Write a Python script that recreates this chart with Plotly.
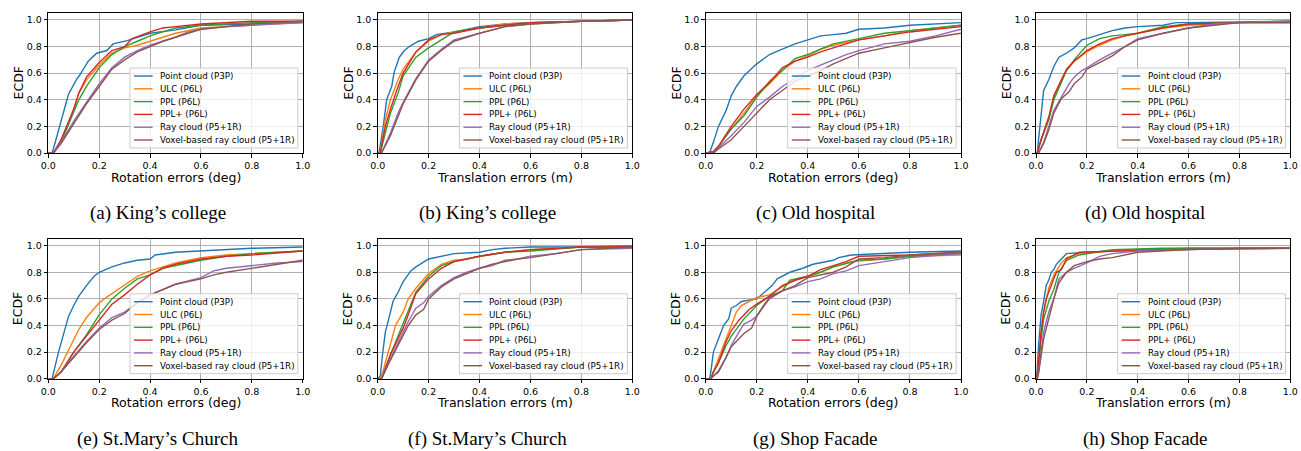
import plotly.graph_objects as go

# ---------------- data ----------------
SERIES = ["Point cloud (P3P)", "ULC (P6L)", "PPL (P6L)", "PPL+ (P6L)",
          "Ray cloud (P5+1R)", "Voxel-based ray cloud (P5+1R)"]
COLORS = ["#1f77b4", "#ff7f0e", "#2ca02c", "#d62728", "#9467bd", "#8c564b"]
CAPTIONS = ["(a) King\u2019s college", "(b) King\u2019s college", "(c) Old hospital", "(d) Old hospital",
            "(e) St.Mary\u2019s Church", "(f) St.Mary\u2019s Church", "(g) Shop Facade", "(h) Shop Facade"]
XTITLES = ["Rotation errors (deg)", "Translation errors (m)"] * 4
TICKS = [0.0, 0.2, 0.4, 0.6, 0.8, 1.0]

# (a) King's college, rotation
A_P3P_X = [0, 0.015, 0.03, 0.046, 0.059, 0.079, 0.11, 0.125, 0.157, 0.19, 0.23, 0.255, 0.31, 0.4, 0.5, 0.6, 0.8, 1.0]
A_P3P_Y = [0, 0, 0.1, 0.21, 0.3, 0.44, 0.55, 0.59, 0.69, 0.75, 0.77, 0.82, 0.845, 0.9, 0.925, 0.96, 0.97, 0.98]
A_ULC_X = [0, 0.02, 0.05, 0.08, 0.1, 0.12, 0.15, 0.2, 0.25, 0.3, 0.35, 0.4, 0.45, 0.5, 0.6, 0.8, 1.0]
A_ULC_Y = [0, 0, 0.09, 0.22, 0.33, 0.45, 0.55, 0.66, 0.75, 0.79, 0.81, 0.84, 0.87, 0.9, 0.94, 0.96, 0.98]
A_PPL_X = [0, 0.02, 0.05, 0.1, 0.12, 0.15, 0.2, 0.25, 0.3, 0.35, 0.4, 0.45, 0.5, 0.6, 0.8, 1.0]
A_PPL_Y = [0, 0, 0.08, 0.3, 0.4, 0.5, 0.64, 0.74, 0.8, 0.84, 0.88, 0.91, 0.94, 0.96, 0.98, 0.99]
A_PPLP_X = [0, 0.02, 0.05, 0.1, 0.12, 0.15, 0.2, 0.25, 0.3, 0.33, 0.4, 0.45, 0.5, 0.6, 0.8, 1.0]
A_PPLP_Y = [0, 0, 0.1, 0.33, 0.45, 0.57, 0.68, 0.77, 0.8, 0.86, 0.91, 0.94, 0.95, 0.97, 0.99, 0.99]
A_RAY_X = [0, 0.02, 0.05, 0.1, 0.15, 0.2, 0.25, 0.3, 0.35, 0.4, 0.45, 0.5, 0.55, 0.6, 0.7, 0.8, 1.0]
A_RAY_Y = [0, 0, 0.08, 0.24, 0.38, 0.52, 0.64, 0.72, 0.77, 0.81, 0.84, 0.87, 0.91, 0.93, 0.95, 0.96, 0.98]
A_VOX_X = [0, 0.02, 0.05, 0.1, 0.15, 0.2, 0.25, 0.3, 0.35, 0.4, 0.45, 0.5, 0.55, 0.6, 0.7, 0.8, 1.0]
A_VOX_Y = [0, 0, 0.07, 0.22, 0.37, 0.5, 0.63, 0.7, 0.76, 0.8, 0.84, 0.87, 0.9, 0.93, 0.95, 0.97, 0.99]

# (b) King's college, translation
B_P3P_X = [0, 0.005, 0.022, 0.035, 0.055, 0.065, 0.085, 0.105, 0.124, 0.16, 0.2, 0.23, 0.3, 0.4, 0.5, 0.6, 0.8, 1.0]
B_P3P_Y = [0, 0, 0.2, 0.4, 0.5, 0.61, 0.72, 0.77, 0.8, 0.84, 0.86, 0.89, 0.91, 0.95, 0.97, 0.98, 0.99, 1.0]
B_ULC_X = [0, 0.01, 0.03, 0.05, 0.08, 0.1, 0.15, 0.2, 0.25, 0.3, 0.4, 0.5, 0.6, 1.0]
B_ULC_Y = [0, 0, 0.25, 0.4, 0.55, 0.63, 0.76, 0.84, 0.89, 0.91, 0.94, 0.97, 0.98, 1.0]
B_PPL_X = [0, 0.01, 0.03, 0.05, 0.08, 0.1, 0.15, 0.2, 0.25, 0.3, 0.4, 0.5, 0.6, 1.0]
B_PPL_Y = [0, 0, 0.15, 0.3, 0.45, 0.58, 0.72, 0.79, 0.85, 0.91, 0.94, 0.96, 0.98, 1.0]
B_PPLP_X = [0, 0.01, 0.03, 0.05, 0.08, 0.1, 0.15, 0.2, 0.25, 0.3, 0.4, 0.5, 0.6, 1.0]
B_PPLP_Y = [0, 0, 0.2, 0.33, 0.5, 0.6, 0.76, 0.85, 0.89, 0.9, 0.94, 0.96, 0.98, 1.0]
B_RAY_X = [0, 0.015, 0.05, 0.08, 0.1, 0.15, 0.2, 0.25, 0.3, 0.4, 0.5, 0.6, 0.8, 1.0]
B_RAY_Y = [0, 0, 0.15, 0.3, 0.38, 0.56, 0.7, 0.78, 0.85, 0.9, 0.95, 0.97, 0.99, 1.0]
B_VOX_X = [0, 0.015, 0.05, 0.08, 0.1, 0.15, 0.2, 0.25, 0.3, 0.4, 0.5, 0.6, 0.8, 1.0]
B_VOX_Y = [0, 0, 0.13, 0.28, 0.37, 0.55, 0.69, 0.77, 0.84, 0.9, 0.95, 0.97, 0.99, 1.0]

# (c) Old hospital, rotation
C_P3P_X = [0, 0.015, 0.03, 0.05, 0.08, 0.1, 0.12, 0.15, 0.2, 0.25, 0.3, 0.35, 0.4, 0.45, 0.5, 0.55, 0.6, 0.7, 0.8, 1.0]
C_P3P_Y = [0, 0, 0.08, 0.2, 0.32, 0.43, 0.5, 0.58, 0.67, 0.74, 0.78, 0.82, 0.85, 0.88, 0.89, 0.9, 0.93, 0.94, 0.96, 0.98]
C_ULC_X = [0, 0.03, 0.05, 0.1, 0.15, 0.2, 0.25, 0.3, 0.35, 0.4, 0.45, 0.5, 0.6, 0.7, 0.8, 1.0]
C_ULC_Y = [0, 0.01, 0.05, 0.18, 0.3, 0.43, 0.52, 0.62, 0.69, 0.73, 0.78, 0.81, 0.85, 0.88, 0.92, 0.96]
C_PPL_X = [0, 0.03, 0.05, 0.1, 0.15, 0.2, 0.25, 0.3, 0.35, 0.4, 0.45, 0.5, 0.6, 0.7, 0.8, 1.0]
C_PPL_Y = [0, 0.01, 0.05, 0.18, 0.28, 0.42, 0.54, 0.62, 0.71, 0.74, 0.78, 0.82, 0.86, 0.9, 0.92, 0.96]
C_PPLP_X = [0, 0.03, 0.05, 0.1, 0.15, 0.2, 0.25, 0.3, 0.35, 0.4, 0.45, 0.5, 0.6, 0.7, 0.8, 1.0]
C_PPLP_Y = [0, 0.01, 0.05, 0.2, 0.33, 0.44, 0.53, 0.64, 0.69, 0.72, 0.76, 0.79, 0.85, 0.88, 0.91, 0.95]
C_RAY_X = [0, 0.03, 0.05, 0.1, 0.15, 0.2, 0.25, 0.3, 0.35, 0.4, 0.45, 0.5, 0.55, 0.6, 0.7, 0.8, 0.9, 1.0]
C_RAY_Y = [0, 0, 0.04, 0.13, 0.23, 0.35, 0.42, 0.5, 0.56, 0.62, 0.66, 0.7, 0.74, 0.77, 0.82, 0.84, 0.88, 0.93]
C_VOX_X = [0, 0.03, 0.05, 0.1, 0.15, 0.2, 0.25, 0.3, 0.35, 0.4, 0.45, 0.5, 0.55, 0.6, 0.7, 0.8, 0.9, 1.0]
C_VOX_Y = [0, 0, 0.03, 0.1, 0.2, 0.3, 0.4, 0.47, 0.54, 0.58, 0.62, 0.67, 0.71, 0.75, 0.79, 0.83, 0.87, 0.9]

# (d) Old hospital, translation
D_P3P_X = [0, 0.005, 0.01, 0.02, 0.03, 0.05, 0.07, 0.09, 0.12, 0.15, 0.18, 0.2, 0.25, 0.3, 0.35, 0.4, 0.5, 0.55, 0.6, 1.0]
D_P3P_Y = [0, 0, 0.1, 0.3, 0.47, 0.55, 0.65, 0.72, 0.75, 0.79, 0.85, 0.86, 0.89, 0.92, 0.94, 0.95, 0.96, 0.98, 0.98, 0.99]
D_ULC_X = [0, 0.005, 0.02, 0.05, 0.07, 0.1, 0.12, 0.15, 0.2, 0.25, 0.3, 0.35, 0.4, 0.5, 0.6, 0.8, 1.0]
D_ULC_Y = [0, 0, 0.1, 0.25, 0.42, 0.55, 0.62, 0.69, 0.76, 0.81, 0.85, 0.88, 0.9, 0.94, 0.96, 0.98, 0.98]
D_PPL_X = [0, 0.005, 0.02, 0.05, 0.07, 0.1, 0.12, 0.15, 0.2, 0.25, 0.3, 0.35, 0.4, 0.5, 0.6, 0.8, 1.0]
D_PPL_Y = [0, 0, 0.1, 0.25, 0.4, 0.53, 0.62, 0.7, 0.81, 0.86, 0.88, 0.89, 0.9, 0.95, 0.97, 0.98, 0.99]
D_PPLP_X = [0, 0.005, 0.02, 0.05, 0.07, 0.1, 0.12, 0.15, 0.2, 0.25, 0.3, 0.35, 0.4, 0.5, 0.6, 0.8, 1.0]
D_PPLP_Y = [0, 0, 0.1, 0.27, 0.43, 0.55, 0.63, 0.69, 0.77, 0.82, 0.86, 0.88, 0.9, 0.94, 0.97, 0.98, 0.98]
D_RAY_X = [0, 0.01, 0.03, 0.05, 0.07, 0.1, 0.13, 0.15, 0.18, 0.2, 0.25, 0.3, 0.35, 0.4, 0.5, 0.6, 0.7, 0.8, 1.0]
D_RAY_Y = [0, 0, 0.08, 0.2, 0.32, 0.42, 0.52, 0.57, 0.62, 0.64, 0.7, 0.75, 0.8, 0.86, 0.9, 0.94, 0.97, 0.98, 0.99]
D_VOX_X = [0, 0.01, 0.03, 0.05, 0.07, 0.1, 0.13, 0.15, 0.18, 0.2, 0.25, 0.3, 0.35, 0.4, 0.5, 0.6, 0.7, 0.8, 1.0]
D_VOX_Y = [0, 0, 0.07, 0.17, 0.3, 0.41, 0.46, 0.52, 0.57, 0.63, 0.68, 0.73, 0.8, 0.85, 0.9, 0.94, 0.96, 0.98, 0.98]

# (e) St.Mary's Church, rotation
E_P3P_X = [0, 0.015, 0.04, 0.06, 0.08, 0.1, 0.12, 0.15, 0.18, 0.2, 0.25, 0.3, 0.35, 0.4, 0.42, 0.5, 0.6, 0.7, 0.8, 1.0]
E_P3P_Y = [0, 0, 0.2, 0.33, 0.47, 0.55, 0.62, 0.7, 0.77, 0.8, 0.84, 0.87, 0.89, 0.9, 0.93, 0.95, 0.96, 0.97, 0.98, 0.99]
E_ULC_X = [0, 0.02, 0.05, 0.08, 0.1, 0.12, 0.15, 0.2, 0.22, 0.25, 0.3, 0.35, 0.4, 0.45, 0.5, 0.6, 0.7, 0.8, 1.0]
E_ULC_Y = [0, 0, 0.1, 0.22, 0.3, 0.37, 0.46, 0.57, 0.6, 0.64, 0.71, 0.77, 0.81, 0.84, 0.87, 0.91, 0.93, 0.94, 0.96]
E_PPL_X = [0, 0.02, 0.05, 0.1, 0.15, 0.2, 0.25, 0.3, 0.35, 0.4, 0.45, 0.5, 0.6, 0.7, 0.8, 1.0]
E_PPL_Y = [0, 0, 0.05, 0.2, 0.33, 0.48, 0.6, 0.68, 0.75, 0.78, 0.83, 0.85, 0.89, 0.92, 0.94, 0.96]
E_PPLP_X = [0, 0.02, 0.05, 0.1, 0.15, 0.2, 0.25, 0.3, 0.35, 0.4, 0.45, 0.5, 0.6, 0.7, 0.8, 1.0]
E_PPLP_Y = [0, 0, 0.05, 0.2, 0.32, 0.44, 0.56, 0.63, 0.71, 0.78, 0.83, 0.86, 0.9, 0.92, 0.93, 0.96]
E_RAY_X = [0, 0.02, 0.05, 0.1, 0.15, 0.2, 0.25, 0.3, 0.35, 0.4, 0.45, 0.5, 0.6, 0.65, 0.7, 0.8, 0.9, 1.0]
E_RAY_Y = [0, 0, 0.05, 0.17, 0.28, 0.38, 0.46, 0.5, 0.57, 0.63, 0.67, 0.71, 0.76, 0.81, 0.83, 0.85, 0.87, 0.88]
E_VOX_X = [0, 0.02, 0.05, 0.1, 0.15, 0.2, 0.25, 0.3, 0.35, 0.4, 0.45, 0.5, 0.6, 0.65, 0.7, 0.8, 0.9, 1.0]
E_VOX_Y = [0, 0, 0.05, 0.16, 0.27, 0.37, 0.44, 0.49, 0.57, 0.63, 0.67, 0.71, 0.75, 0.78, 0.8, 0.83, 0.86, 0.89]

# (f) St.Mary's Church, translation
F_P3P_X = [0, 0.01, 0.02, 0.03, 0.05, 0.06, 0.08, 0.1, 0.13, 0.15, 0.2, 0.25, 0.3, 0.4, 0.45, 0.5, 0.6, 1.0]
F_P3P_Y = [0, 0.02, 0.2, 0.35, 0.5, 0.58, 0.65, 0.73, 0.81, 0.84, 0.9, 0.92, 0.94, 0.95, 0.97, 0.98, 0.99, 0.99]
F_ULC_X = [0, 0.01, 0.02, 0.05, 0.07, 0.1, 0.12, 0.15, 0.18, 0.2, 0.25, 0.3, 0.35, 0.4, 0.5, 0.6, 0.8, 1.0]
F_ULC_Y = [0, 0, 0.05, 0.25, 0.4, 0.5, 0.6, 0.68, 0.75, 0.79, 0.86, 0.89, 0.9, 0.92, 0.95, 0.97, 0.99, 1.0]
F_PPL_X = [0, 0.015, 0.05, 0.08, 0.1, 0.12, 0.15, 0.2, 0.25, 0.3, 0.4, 0.5, 0.6, 0.8, 1.0]
F_PPL_Y = [0, 0, 0.18, 0.32, 0.42, 0.52, 0.65, 0.77, 0.85, 0.88, 0.92, 0.95, 0.96, 0.99, 1.0]
F_PPLP_X = [0, 0.015, 0.05, 0.08, 0.1, 0.12, 0.15, 0.2, 0.25, 0.3, 0.4, 0.5, 0.6, 0.8, 1.0]
F_PPLP_Y = [0, 0, 0.18, 0.3, 0.38, 0.48, 0.64, 0.75, 0.83, 0.88, 0.92, 0.95, 0.97, 0.99, 0.99]
F_RAY_X = [0, 0.015, 0.05, 0.1, 0.12, 0.15, 0.18, 0.2, 0.25, 0.3, 0.35, 0.4, 0.45, 0.5, 0.55, 0.6, 0.7, 0.8, 1.0]
F_RAY_Y = [0, 0, 0.15, 0.35, 0.43, 0.53, 0.57, 0.62, 0.7, 0.76, 0.8, 0.83, 0.85, 0.89, 0.9, 0.92, 0.94, 0.97, 0.98]
F_VOX_X = [0, 0.015, 0.05, 0.1, 0.12, 0.15, 0.18, 0.2, 0.25, 0.3, 0.35, 0.4, 0.45, 0.5, 0.55, 0.6, 0.7, 0.8, 1.0]
F_VOX_Y = [0, 0, 0.14, 0.33, 0.4, 0.48, 0.52, 0.6, 0.69, 0.75, 0.79, 0.83, 0.86, 0.88, 0.9, 0.91, 0.94, 0.97, 0.99]

# (g) Shop Facade, rotation
G_P3P_X = [0, 0.015, 0.02, 0.03, 0.05, 0.07, 0.09, 0.1, 0.12, 0.14, 0.2, 0.23, 0.26, 0.28, 0.3, 0.33, 0.38, 0.42, 0.5, 0.52, 0.57, 0.8, 1.0]
G_P3P_Y = [0, 0, 0.05, 0.2, 0.3, 0.4, 0.45, 0.53, 0.55, 0.58, 0.6, 0.65, 0.7, 0.75, 0.77, 0.8, 0.83, 0.86, 0.89, 0.91, 0.93, 0.95, 0.96]
G_ULC_X = [0, 0.02, 0.03, 0.05, 0.08, 0.1, 0.12, 0.14, 0.17, 0.2, 0.25, 0.3, 0.35, 0.4, 0.45, 0.5, 0.57, 0.7, 0.8, 1.0]
G_ULC_Y = [0, 0, 0.05, 0.15, 0.3, 0.4, 0.5, 0.55, 0.58, 0.61, 0.63, 0.69, 0.74, 0.77, 0.8, 0.84, 0.88, 0.9, 0.92, 0.93]
G_PPL_X = [0, 0.02, 0.03, 0.05, 0.08, 0.1, 0.15, 0.2, 0.25, 0.3, 0.33, 0.4, 0.45, 0.5, 0.6, 0.7, 0.8, 1.0]
G_PPL_Y = [0, 0, 0.05, 0.12, 0.25, 0.32, 0.45, 0.55, 0.62, 0.66, 0.74, 0.77, 0.8, 0.84, 0.89, 0.9, 0.92, 0.94]
G_PPLP_X = [0, 0.02, 0.03, 0.05, 0.08, 0.1, 0.13, 0.17, 0.2, 0.25, 0.3, 0.35, 0.4, 0.45, 0.5, 0.55, 0.6, 0.8, 1.0]
G_PPLP_Y = [0, 0, 0.05, 0.12, 0.28, 0.36, 0.44, 0.52, 0.56, 0.62, 0.7, 0.74, 0.77, 0.82, 0.85, 0.88, 0.92, 0.93, 0.95]
G_RAY_X = [0, 0.02, 0.03, 0.05, 0.08, 0.1, 0.13, 0.15, 0.18, 0.2, 0.23, 0.25, 0.3, 0.35, 0.4, 0.45, 0.5, 0.55, 0.6, 0.7, 0.8, 1.0]
G_RAY_Y = [0, 0, 0.02, 0.06, 0.16, 0.25, 0.35, 0.41, 0.44, 0.47, 0.55, 0.6, 0.66, 0.69, 0.73, 0.75, 0.79, 0.81, 0.85, 0.88, 0.91, 0.94]
G_VOX_X = [0, 0.02, 0.03, 0.05, 0.08, 0.1, 0.13, 0.15, 0.18, 0.2, 0.23, 0.25, 0.3, 0.35, 0.4, 0.45, 0.5, 0.55, 0.6, 0.7, 0.8, 1.0]
G_VOX_Y = [0, 0, 0.02, 0.05, 0.16, 0.24, 0.3, 0.34, 0.38, 0.47, 0.56, 0.61, 0.66, 0.7, 0.76, 0.78, 0.8, 0.84, 0.9, 0.91, 0.93, 0.95]

# (h) Shop Facade, translation
H_P3P_X = [0, 0.003, 0.01, 0.02, 0.03, 0.04, 0.05, 0.06, 0.07, 0.08, 0.1, 0.12, 0.2, 0.4, 0.6, 1.0]
H_P3P_Y = [0, 0, 0.25, 0.48, 0.58, 0.7, 0.74, 0.8, 0.82, 0.86, 0.9, 0.94, 0.95, 0.97, 0.98, 0.98]
H_ULC_X = [0, 0.003, 0.01, 0.02, 0.03, 0.05, 0.07, 0.1, 0.12, 0.17, 0.3, 0.5, 1.0]
H_ULC_Y = [0, 0, 0.1, 0.35, 0.5, 0.68, 0.78, 0.87, 0.91, 0.94, 0.96, 0.97, 0.98]
H_PPL_X = [0, 0.003, 0.01, 0.02, 0.03, 0.05, 0.07, 0.09, 0.12, 0.17, 0.3, 0.5, 1.0]
H_PPL_Y = [0, 0, 0.08, 0.3, 0.45, 0.58, 0.67, 0.8, 0.89, 0.93, 0.97, 0.98, 0.98]
H_PPLP_X = [0, 0.003, 0.01, 0.02, 0.03, 0.04, 0.06, 0.08, 0.1, 0.12, 0.17, 0.3, 0.5, 1.0]
H_PPLP_Y = [0, 0, 0.12, 0.35, 0.5, 0.6, 0.7, 0.8, 0.82, 0.9, 0.95, 0.96, 0.97, 0.98]
H_RAY_X = [0, 0.005, 0.01, 0.02, 0.03, 0.05, 0.07, 0.09, 0.12, 0.15, 0.2, 0.25, 0.3, 0.4, 0.6, 0.8, 1.0]
H_RAY_Y = [0, 0, 0.05, 0.2, 0.35, 0.5, 0.6, 0.75, 0.8, 0.83, 0.87, 0.92, 0.94, 0.96, 0.97, 0.98, 0.98]
H_VOX_X = [0, 0.005, 0.01, 0.02, 0.03, 0.05, 0.07, 0.09, 0.12, 0.15, 0.2, 0.25, 0.3, 0.4, 0.6, 0.8, 1.0]
H_VOX_Y = [0, 0, 0.04, 0.17, 0.3, 0.45, 0.6, 0.72, 0.8, 0.85, 0.88, 0.9, 0.91, 0.95, 0.97, 0.98, 0.98]

PANELS = [
    [(A_P3P_X, A_P3P_Y), (A_ULC_X, A_ULC_Y), (A_PPL_X, A_PPL_Y), (A_PPLP_X, A_PPLP_Y), (A_RAY_X, A_RAY_Y), (A_VOX_X, A_VOX_Y)],
    [(B_P3P_X, B_P3P_Y), (B_ULC_X, B_ULC_Y), (B_PPL_X, B_PPL_Y), (B_PPLP_X, B_PPLP_Y), (B_RAY_X, B_RAY_Y), (B_VOX_X, B_VOX_Y)],
    [(C_P3P_X, C_P3P_Y), (C_ULC_X, C_ULC_Y), (C_PPL_X, C_PPL_Y), (C_PPLP_X, C_PPLP_Y), (C_RAY_X, C_RAY_Y), (C_VOX_X, C_VOX_Y)],
    [(D_P3P_X, D_P3P_Y), (D_ULC_X, D_ULC_Y), (D_PPL_X, D_PPL_Y), (D_PPLP_X, D_PPLP_Y), (D_RAY_X, D_RAY_Y), (D_VOX_X, D_VOX_Y)],
    [(E_P3P_X, E_P3P_Y), (E_ULC_X, E_ULC_Y), (E_PPL_X, E_PPL_Y), (E_PPLP_X, E_PPLP_Y), (E_RAY_X, E_RAY_Y), (E_VOX_X, E_VOX_Y)],
    [(F_P3P_X, F_P3P_Y), (F_ULC_X, F_ULC_Y), (F_PPL_X, F_PPL_Y), (F_PPLP_X, F_PPLP_Y), (F_RAY_X, F_RAY_Y), (F_VOX_X, F_VOX_Y)],
    [(G_P3P_X, G_P3P_Y), (G_ULC_X, G_ULC_Y), (G_PPL_X, G_PPL_Y), (G_PPLP_X, G_PPLP_Y), (G_RAY_X, G_RAY_Y), (G_VOX_X, G_VOX_Y)],
    [(H_P3P_X, H_P3P_Y), (H_ULC_X, H_ULC_Y), (H_PPL_X, H_PPL_Y), (H_PPLP_X, H_PPLP_Y), (H_RAY_X, H_RAY_Y), (H_VOX_X, H_VOX_Y)],
]

# ---------------- layout geometry (pixels) ----------------
W, H = 1301, 451
COL_L = [48.3, 377.7, 705.7, 1036.0]
COL_R = [302.7, 632.3, 961.0, 1290.3]
ROW_T = [13.3, 239.0]
ROW_B = [153.0, 378.7]

SANS = "DejaVu Sans"
SERIF = "Liberation Serif"

fig = go.Figure()
layout = dict(
    width=W, height=H, autosize=False,
    margin=dict(l=0, r=0, t=0, b=0, pad=0, autoexpand=False),
    paper_bgcolor="white", plot_bgcolor="white", showlegend=False,
    font=dict(family=SANS, color="black"),
)
shapes, annotations = [], []

axis_common = dict(
    showline=True, mirror=True, linecolor="black", linewidth=1,
    ticks="outside", ticklen=3.5, tickwidth=1, tickcolor="black",
    showgrid=True, gridcolor="#b0b0b0", gridwidth=0.8, zeroline=False,
    automargin=False,
    tickfont=dict(size=9.5, color="black", family=SANS),
    tickmode="array", tickvals=TICKS, ticktext=["%.1f" % t for t in TICKS],
)

# legend geometry in axis-domain units
LEG_X0, LEG_X1, LEG_Y0, LEG_Y1 = 0.321, 0.981, 0.036, 0.608
LINE_X0, LINE_X1, TEXT_X = 0.337, 0.410, 0.431
ROW0, ROWSTEP = 0.551, 0.0916

for i, curves in enumerate(PANELS):
    r, c = divmod(i, 4)
    n = i + 1
    sfx = "" if n == 1 else str(n)
    xa, ya = "x" + sfx, "y" + sfx
    for (xs, ys), name, col in zip(curves, SERIES, COLORS):
        fig.add_trace(go.Scatter(x=xs, y=ys, mode="lines", name=name,
                                 line=dict(color=col, width=1.4),
                                 xaxis=xa, yaxis=ya, hoverinfo="skip"))
    layout["xaxis" + sfx] = dict(domain=[COL_L[c] / W, COL_R[c] / W], range=[0, 1],
                                 anchor=ya, **axis_common)
    layout["yaxis" + sfx] = dict(domain=[1 - ROW_B[r] / H, 1 - ROW_T[r] / H], range=[0, 1.05],
                                 anchor=xa, **axis_common)

    # custom legend (matplotlib-like compact box)
    shapes.append(dict(type="rect", xref=xa + " domain", yref=ya + " domain",
                       x0=LEG_X0, x1=LEG_X1, y0=LEG_Y0, y1=LEG_Y1,
                       fillcolor="rgba(255,255,255,0.8)", line=dict(color="#cccccc", width=1),
                       layer="above"))
    for k, (name, col) in enumerate(zip(SERIES, COLORS)):
        yk = ROW0 - k * ROWSTEP
        shapes.append(dict(type="line", xref=xa + " domain", yref=ya + " domain",
                           x0=LINE_X0, x1=LINE_X1, y0=yk, y1=yk,
                           line=dict(color=col, width=1.4), layer="above"))
        annotations.append(dict(text=name, xref=xa + " domain", yref=ya + " domain",
                                x=TEXT_X, y=yk, xanchor="left", yanchor="middle",
                                showarrow=False, font=dict(size=8.7, family=SANS, color="black")))

    cx = (COL_L[c] + COL_R[c]) / 2
    cy = (ROW_T[r] + ROW_B[r]) / 2
    annotations.append(dict(text="ECDF", xref="paper", yref="paper",
                            x=(COL_L[c] - 30) / W, y=1 - cy / H, xanchor="center", yanchor="middle",
                            textangle=-90, showarrow=False,
                            font=dict(size=12.5, family=SANS, color="black")))
    annotations.append(dict(text=XTITLES[i], xref="paper", yref="paper",
                            x=cx / W, y=1 - (ROW_B[r] + 24) / H, xanchor="center", yanchor="middle",
                            showarrow=False, font=dict(size=12.5, family=SANS, color="black")))
    annotations.append(dict(text=CAPTIONS[i], xref="paper", yref="paper",
                            x=(cx - 18) / W, y=1 - (ROW_B[r] + 60) / H, xanchor="center", yanchor="middle",
                            showarrow=False, font=dict(size=19, family=SERIF, color="black")))

layout["shapes"] = shapes
layout["annotations"] = annotations
fig.update_layout(**layout)
fig.write_html("out.html", config={"displayModeBar": False, "responsive": False},
               post_script="document.body.style.margin='0';document.body.style.padding='0';"
                           "document.body.style.overflow='hidden';")
